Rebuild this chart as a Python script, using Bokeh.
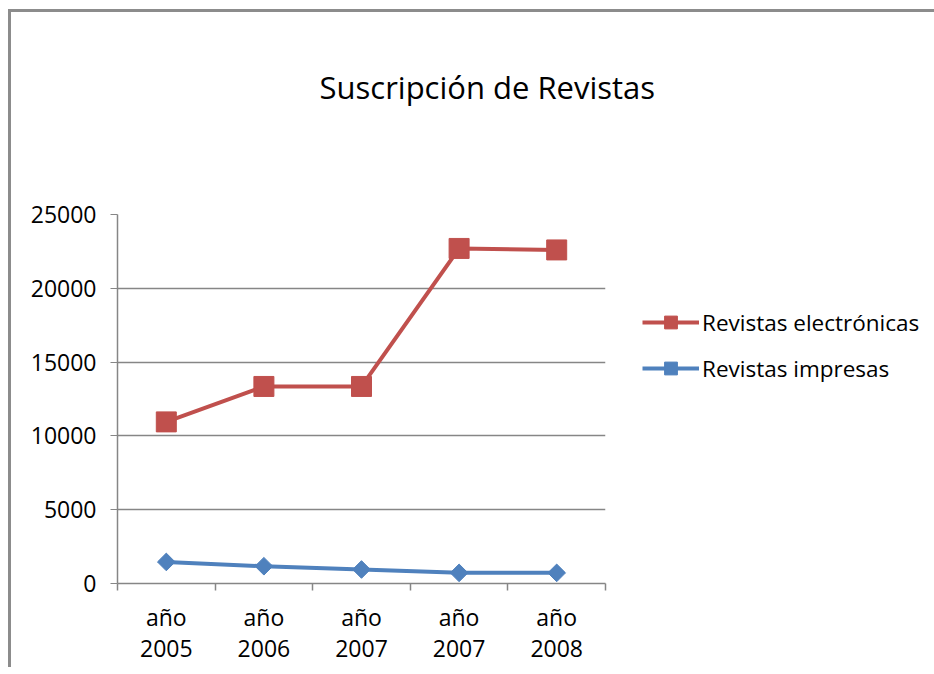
from bokeh.plotting import figure
from bokeh.models import FixedTicker, Legend, LegendItem, ColumnDataSource, Title
from bokeh.embed import file_html
from bokeh.resources import INLINE

categories = ["año 2005", "año 2006", "año 2007", "año 2007", "año 2008"]
electronicas = [10950, 13350, 13350, 22700, 22600]
impresas = [1460, 1170, 950, 720, 720]
y_ticks = [0, 5000, 10000, 15000, 20000, 25000]
title_text = "Suscripción de Revistas"

RED = "#C0504D"
BLUE = "#4F81BD"
FONT = "Open Sans"

xs = [i + 0.5 for i in range(len(categories))]

p = figure(output_backend="svg", toolbar_location=None,
           frame_width=488, frame_height=369,
           x_range=(0, len(categories)), y_range=(0, 25000),
           min_border_left=106, min_border_right=322,
           min_border_top=0, min_border_bottom=84,
           title=None,
           styles={"border-left": "3px solid #8c8c8c",
                   "border-top": "3px solid #8c8c8c",
                   "margin-left": "8px", "margin-top": "9px"})

# spacer between frame and title (closest to the frame)
spacer = Title(text=" ", text_font_size="10px", standoff=42)
p.add_layout(spacer, "above")
main_title = Title(text=title_text, text_font=FONT, text_font_size="31px",
                   text_font_style="normal", text_color="#000000",
                   align="left", offset=202, standoff=103)
p.add_layout(main_title, "above")

p.outline_line_color = None
p.background_fill_color = "white"
p.border_fill_color = "white"

# x axis: labels at category centres, tick marks at category boundaries
p.xaxis.ticker = FixedTicker(ticks=xs, minor_ticks=list(range(len(categories) + 1)))
p.xaxis.major_label_overrides = {x: c.replace(" ", "\n") for x, c in zip(xs, categories)}
p.xaxis.major_tick_line_color = None
p.xaxis.minor_tick_line_color = "#868686"
p.xaxis.minor_tick_out = 7
p.xaxis.minor_tick_in = 0
p.xaxis.minor_tick_line_width = 1.5
p.xaxis.axis_line_color = "#868686"
p.xaxis.axis_line_width = 1.5
p.xaxis.major_label_text_font = FONT
p.xaxis.major_label_text_font_size = "23px"
p.xaxis.major_label_text_color = "#000000"
p.xaxis.major_label_standoff = 10
p.xaxis.major_label_text_line_height = 0.99
p.xgrid.grid_line_color = None

p.yaxis.ticker = FixedTicker(ticks=y_ticks)
p.yaxis.axis_line_color = "#868686"
p.yaxis.axis_line_width = 1.5
p.yaxis.major_tick_line_color = "#868686"
p.yaxis.major_tick_out = 7
p.yaxis.major_tick_in = 0
p.yaxis.minor_tick_line_color = None
p.yaxis.major_label_text_font = FONT
p.yaxis.major_label_text_font_size = "23px"
p.yaxis.major_label_text_color = "#000000"
p.yaxis.major_label_standoff = 14
p.ygrid.grid_line_color = "#868686"
p.ygrid.grid_line_width = 1.5

src = ColumnDataSource(dict(x=xs, e=electronicas, i=impresas))

le = p.line("x", "e", source=src, line_color=RED, line_width=4)
se = p.scatter("x", "e", source=src, marker="square", size=20,
               fill_color=RED, line_color=RED)
li = p.line("x", "i", source=src, line_color=BLUE, line_width=4)
si = p.scatter("x", "i", source=src, marker="square", size=12.5, angle=0.7854,
               fill_color=BLUE, line_color=BLUE)

legend = Legend(items=[
    LegendItem(label="Revistas electrónicas", renderers=[le, se]),
    LegendItem(label="Revistas impresas", renderers=[li, si]),
], location=(37, 199))
legend.border_line_color = None
legend.background_fill_alpha = 0
legend.padding = 0
legend.margin = 0
legend.spacing = 14
legend.label_height = 22
legend.glyph_height = 32
legend.glyph_width = 57
legend.label_standoff = 3
legend.label_text_font = FONT
legend.label_text_font_size = "22.5px"
legend.label_text_color = "#000000"
p.add_layout(legend, "right")

open("out.html", "w").write(file_html(p, INLINE))
